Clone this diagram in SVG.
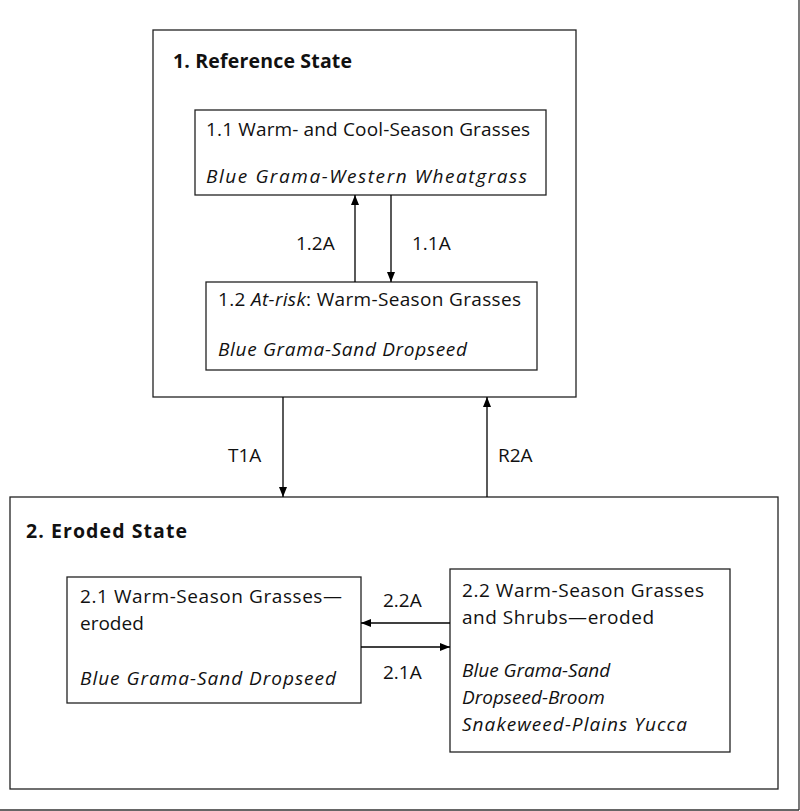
<svg xmlns="http://www.w3.org/2000/svg" width="800" height="811" viewBox="0 0 800 811">
<defs>
<marker id="a" markerWidth="10" markerHeight="8" refX="10" refY="4" orient="auto" markerUnits="userSpaceOnUse"><path d="M0,0 L10,4 L0,8 Z" fill="#000"/></marker>
</defs>
<style>
rect{fill:#fff;stroke:#222;stroke-width:1.3}
text{font-family:"Open Sans","Liberation Sans",sans-serif;font-size:19px;fill:#111}
.b{font-weight:bold;font-size:19.5px}
.i{font-style:italic}
line{stroke:#000;stroke-width:1.3;marker-end:url(#a)}
</style>
<rect x="0" y="0" width="800" height="811" style="fill:#fff;stroke:none"/>
<line x1="0" y1="810" x2="799" y2="810" style="marker-end:none;stroke:#333"/>
<line x1="799" y1="0" x2="799" y2="810" style="marker-end:none;stroke:#333"/>
<g id="state1"><rect x="153" y="30" width="423" height="367"/><text class="b" x="173" y="68" textLength="179">1. Reference State</text></g>
<g id="n11"><rect x="195" y="110" width="351" height="85"/><text x="206" y="136" textLength="324">1.1 Warm- and Cool-Season Grasses</text><text class="i" x="206" y="183" textLength="321">Blue Grama-Western Wheatgrass</text></g>
<g id="n12"><rect x="206" y="282" width="331" height="88"/><text x="218" y="306" textLength="303">1.2  <tspan class="i">At-risk</tspan>: Warm-Season Grasses</text><text class="i" x="218" y="356" textLength="249">Blue Grama-Sand Dropseed</text></g>
<g id="state2"><rect x="10" y="497" width="768" height="292"/><text class="b" x="26" y="538" textLength="161">2. Eroded State</text></g>
<g id="n21"><rect x="67" y="577" width="294" height="126"/><text x="80" y="603" textLength="262">2.1 Warm-Season Grasses—</text><text x="80" y="630">eroded</text><text class="i" x="80" y="685" textLength="256">Blue Grama-Sand Dropseed</text></g>
<g id="n22"><rect x="450" y="569" width="280" height="183"/><text x="462" y="597" textLength="242">2.2 Warm-Season Grasses</text><text x="462" y="624" textLength="192">and Shrubs—eroded</text><text class="i" x="462" y="677">Blue Grama-Sand</text><text class="i" x="462" y="704">Dropseed-Broom</text><text class="i" x="462" y="731" textLength="225">Snakeweed-Plains Yucca</text></g>
<g id="connectors">
<line x1="355" y1="282" x2="355" y2="195"/>
<line x1="391" y1="195" x2="391" y2="282"/>
<line x1="283" y1="397" x2="283" y2="497"/>
<line x1="487" y1="497" x2="487" y2="397"/>
<line x1="450" y1="623" x2="361" y2="623"/>
<line x1="361" y1="647" x2="450" y2="647"/>
<text x="296" y="250">1.2A</text>
<text x="412" y="250">1.1A</text>
<text x="228" y="462">T1A</text>
<text x="498" y="462">R2A</text>
<text x="383" y="607">2.2A</text>
<text x="383" y="679">2.1A</text>
</g>
</svg>
